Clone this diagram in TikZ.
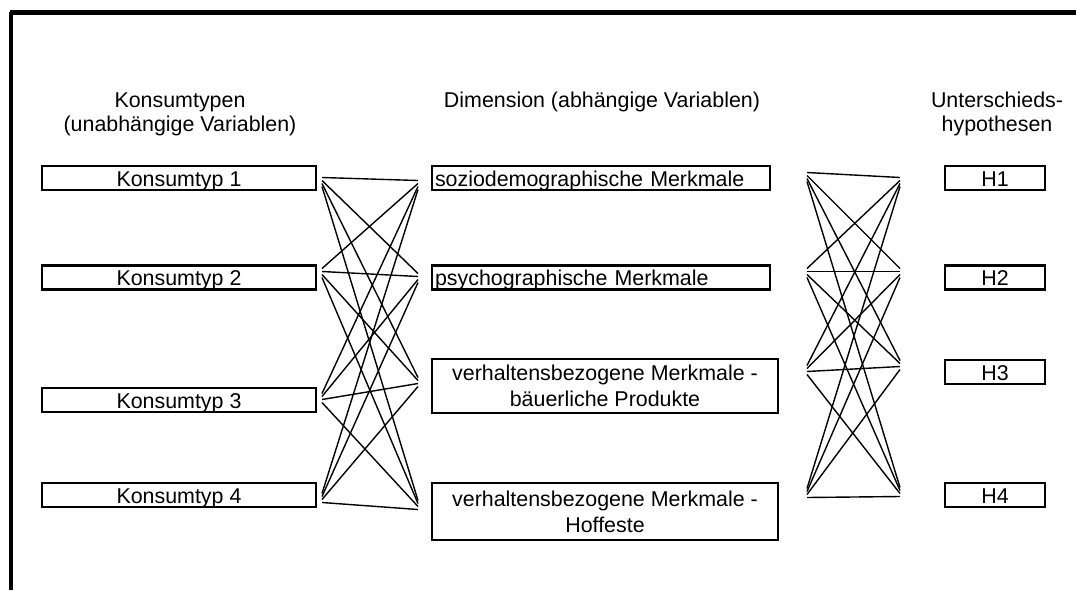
\documentclass[tikz,border=0pt]{standalone}
\usepackage{fontspec}
\setmainfont{Liberation Sans}
\usepackage{tikz}

\tikzset{
  typbox/.style={draw,line width=1.3pt,minimum width=137pt,minimum height=12pt,inner sep=0pt,text height=8.5pt,text depth=0.5pt},
  dimbox/.style={draw,line width=1.3pt,minimum width=169pt,minimum height=12pt,inner sep=0pt,text height=8.5pt,text depth=0.5pt},
  verhbox/.style={draw,line width=1.3pt,minimum width=173pt,align=center,inner sep=0pt},
  hypbox/.style={draw,line width=1.3pt,minimum width=50pt,minimum height=12pt,inner sep=0pt,text height=8.5pt,text depth=0.5pt},
  kante/.style={line width=0.7pt}
}

\begin{document}
\begin{tikzpicture}[x=0.5pt,y=-0.5pt,every node/.style={font=\fontsize{10.7}{12}\selectfont}]
\useasboundingbox (0,0) rectangle (1076,590);
% rahmen
\draw[line width=2pt] (11,590) -- (11,12);
\draw[line width=2.5pt] (10,12) -- (1076,12);
% ueberschriften
\node[align=center] (kopfK) at (180,114) {Konsumtypen\\(unabhängige Variablen)};
\node (kopfD) at (602,102) {Dimension (abhängige Variablen)};
\node[align=center] (kopfH) at (997,114) {Unterschieds-\\hypothesen};
% konsumtypen
\node[typbox] (K1) at (179,178) {Konsumtyp 1};
\node[typbox] (K2) at (179,277.5) {Konsumtyp 2};
\node[typbox] (K3) at (179,400) {Konsumtyp 3};
\node[typbox] (K4) at (179,495) {Konsumtyp 4};
% dimensionen
\node[dimbox,text width=166pt,align=left] (D1) at (601,178) {soziodemographische Merkmale};
\node[dimbox,text width=166pt,align=left] (D2) at (601,277.5) {psychographische Merkmale};
\node[verhbox,minimum height=27pt,font=\fontsize{10.7}{13}\selectfont] (D3) at (605,386) {verhaltensbezogene Merkmale -\\bäuerliche Produkte};
\node[verhbox,minimum height=28.5pt,font=\fontsize{10.7}{13}\selectfont] (D4) at (605,511.5) {verhaltensbezogene Merkmale -\\Hoffeste};
% hypothesen
\node[hypbox] (H1) at (995,178) {H1};
\node[hypbox] (H2) at (995,277.5) {H2};
\node[hypbox] (H3) at (995,372) {H3};
\node[hypbox] (H4) at (995,495) {H4};
% endpunkte der linien
\foreach \i/\yk/\yd in {1/182/185, 2/273/278, 3/398/382, 4/498/505} {
  \coordinate (kr\i) at (322,\yk);
  \coordinate (dl\i) at (418,\yd);
}
\foreach \i/\yd/\yh in {1/177/182, 2/273/273, 3/370/365, 4/493/492} {
  \coordinate (dr\i) at (807,\yd);
  \coordinate (hl\i) at (900,\yh);
}
% jeder mit jedem
\foreach \a in {1,...,4}
  \foreach \b in {1,...,4} {
    \draw[kante] ([yshift={(2.5-\b)*1.5pt}]kr\a) -- ([yshift={(2.5-\a)*1.5pt}]dl\b);
    \draw[kante] ([yshift={(2.5-\b)*1.5pt}]dr\a) -- ([yshift={(2.5-\a)*1.5pt}]hl\b);
  }
\end{tikzpicture}
\end{document}
